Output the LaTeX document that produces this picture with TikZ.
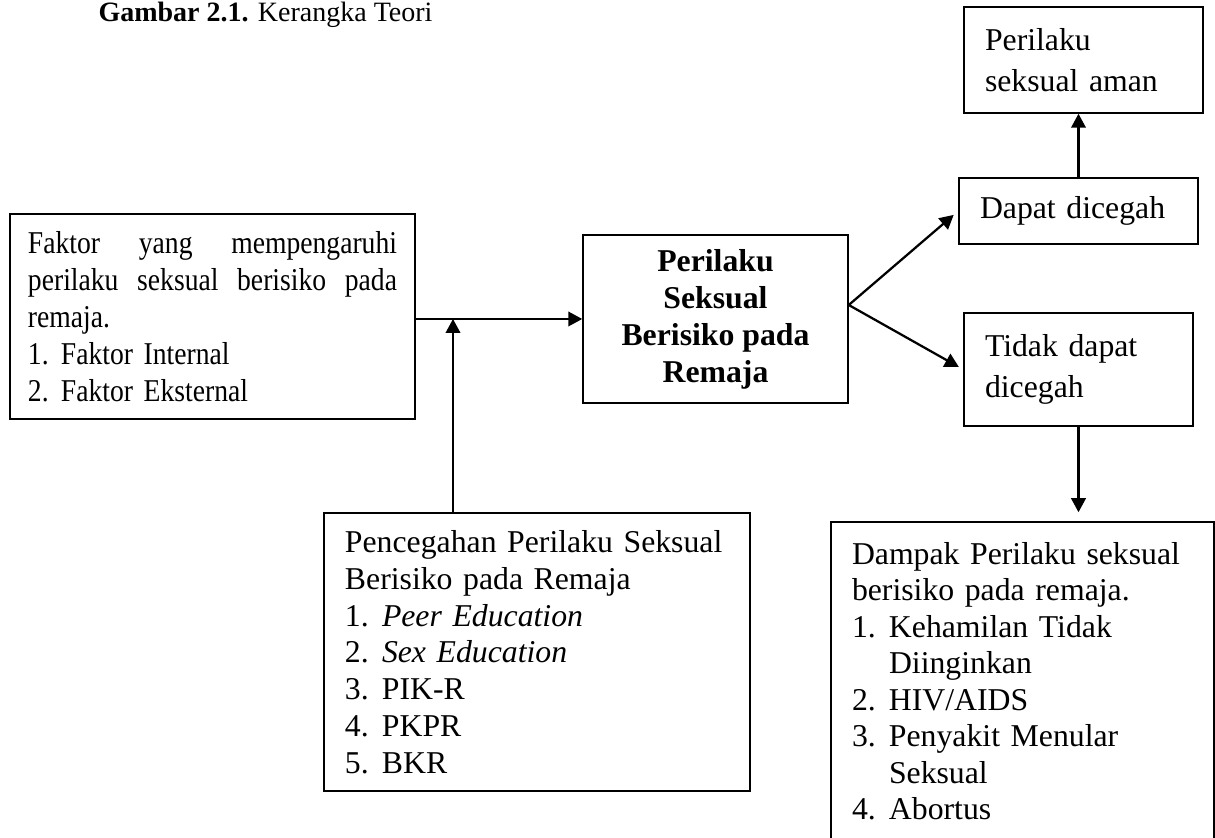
\documentclass[tikz,border=0pt]{standalone}
\usepackage{fontspec}
\setmainfont{Liberation Serif}
\newfontfamily\narrowfont{Liberation Serif}[FakeStretch=0.87]
\usepackage{tikz}
\usetikzlibrary{arrows.meta}

\newcommand{\numitem}[2][14.8pt]{\makebox[#1][l]{#2}}

\begin{document}
\begin{tikzpicture}[
    x=0.4pt, y=-0.4pt,
    box/.style={draw, line width=0.6pt, inner sep=0pt, align=left,
                font=\fontsize{12.7pt}{14.8pt}\selectfont},
    wide/.style={font=\fontsize{12.7pt}{16.4pt}\selectfont},
    arr/.style={-{Triangle[length=5.6pt, width=5.8pt]}, line width=0.9pt},
    judul/.style={font=\fontsize{11.2pt}{13pt}\selectfont, inner sep=0pt, anchor=base west}
  ]

  %% Page frame (the bottom box runs past the lower edge)
  \useasboundingbox (0,0) rectangle (1215,838);
  \clip (0,0) rectangle (1215,838);

  %% Column positions (x-coords)
  \def\xL{212.5}
  \def\xM{715.5}
  \def\xR{1078.5}

  %% Caption
  \node[judul] (judul) at (98,21.7) {\textbf{Gambar 2.1.} Kerangka Teori};

  %% Factors box
  \node[box, font=\narrowfont\fontsize{12.7pt}{14.8pt}\selectfont,
        minimum width=162pt, minimum height=82pt, text width=147.6pt]
    (faktor) at (\xL,316.5)
    {Faktor\hfill yang\hfill mempengaruhi\\
     perilaku\hfill seksual\hfill berisiko\hfill pada\\
     remaja.\\
     \numitem[13.2pt]{1.}Faktor Internal\\
     \numitem[13.2pt]{2.}Faktor Eksternal};

  %% Central box
  \node[box, align=center, font=\bfseries\fontsize{12.7pt}{14.8pt}\selectfont,
        minimum width=106pt, minimum height=67.2pt]
    (perilaku) at (\xM,319)
    {Perilaku\\ Seksual\\ Berisiko pada\\ Remaja};

  %% Prevention box
  \node[box, font=\fontsize{12.7pt}{14.7pt}\selectfont,
        minimum width=170.4pt, minimum height=111.2pt, text width=153.6pt]
    (pencegahan) at (537,652)
    {Pencegahan Perilaku Seksual\\
     Berisiko pada Remaja\\
     \numitem{1.}\textit{Peer Education}\\
     \numitem{2.}\textit{Sex Education}\\
     \numitem{3.}PIK-R\\
     \numitem{4.}PKPR\\
     \numitem{5.}BKR};

  %% Right column
  \node[box, wide, minimum width=95.6pt, minimum height=42.4pt, text width=78.8pt]
    (aman) at (1083.5,60) {Perilaku\\ seksual aman};
  \node[box, minimum width=95.6pt, minimum height=26.4pt, text width=78.8pt]
    (dapat) at (\xR,211) {Dapat dicegah};
  \node[box, wide, minimum width=91.6pt, minimum height=45.2pt, text width=74.8pt]
    (tidak) at (\xR,369.5) {Tidak dapat\\ dicegah};

  %% Impact box
  \node[box, font=\fontsize{12.7pt}{14.6pt}\selectfont,
        minimum width=153.2pt, minimum height=127.2pt, text width=136.4pt]
    (dampak) at (1022.5,681)
    {Dampak Perilaku seksual\\
     berisiko pada remaja.\\
     \numitem{1.}Kehamilan Tidak\\
     \numitem{}Diinginkan\\
     \numitem{2.}HIV/AIDS\\
     \numitem{3.}Penyakit Menular\\
     \numitem{}Seksual\\
     \numitem{4.}Abortus};

  %% Connections
  \coordinate (join) at (453,319);
  \coordinate (fork) at ([yshift=5.6pt]perilaku.east);
  \draw[arr] (faktor.east |- perilaku.west) -- (perilaku.west);
  \draw[arr] (pencegahan.north -| join) -- (join);
  \draw[arr, shorten >=2.4pt] (fork) -- (dapat.west);
  \draw[arr, shorten >=2pt] (fork) -- (tidak.west);
  \draw[arr] (dapat.north) -- (dapat.north |- aman.south);
  \draw[arr, shorten >=3.6pt] (tidak.south) -- (tidak.south |- dampak.north);

\end{tikzpicture}
\end{document}
